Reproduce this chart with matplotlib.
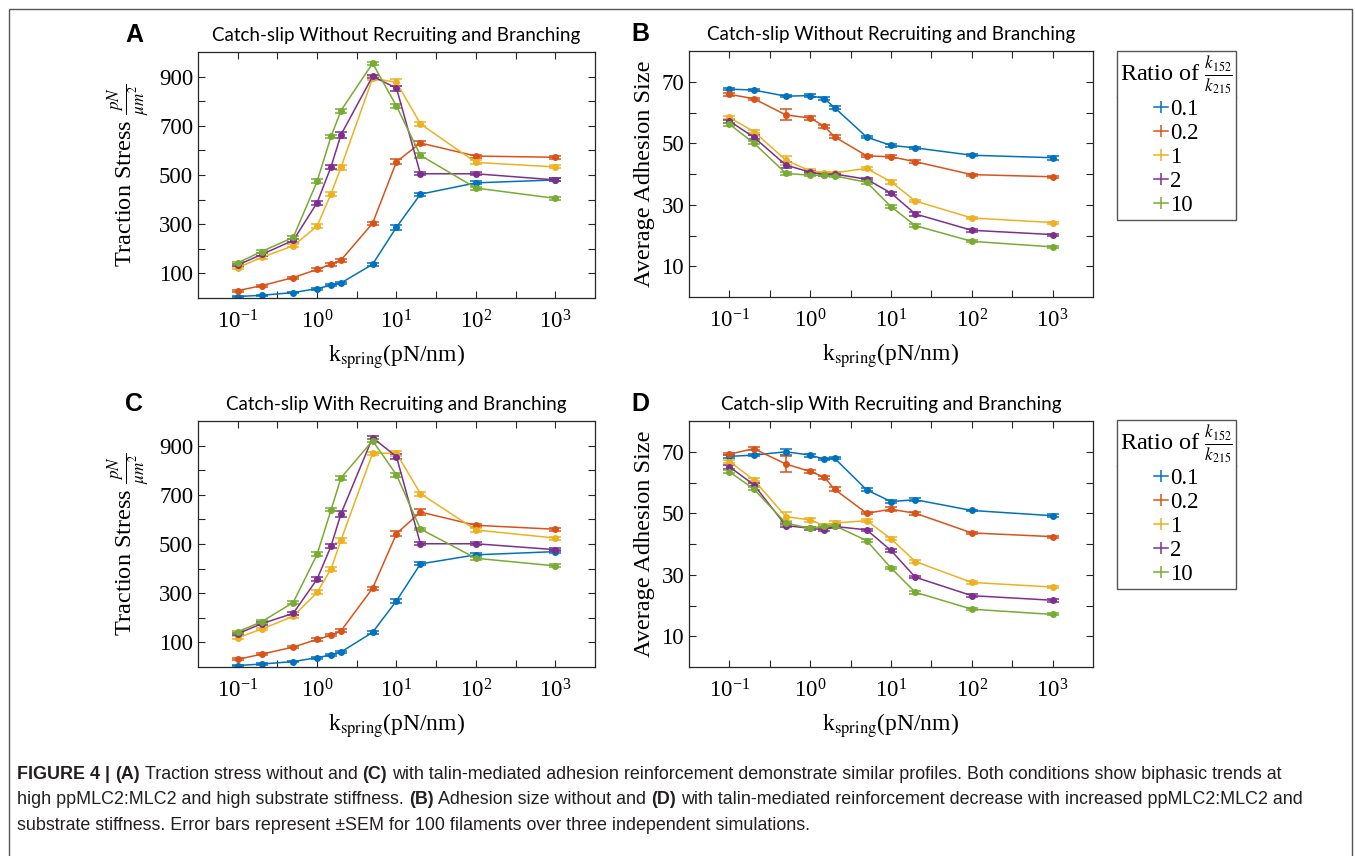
import matplotlib
matplotlib.use('Agg')
import matplotlib.pyplot as plt
from matplotlib.lines import Line2D
from matplotlib.patches import Rectangle
from matplotlib.ticker import FixedLocator, NullFormatter

plt.rcParams['font.family'] = ['Liberation Serif', 'DejaVu Serif']
plt.rcParams['mathtext.fontset'] = 'stix'

k_spring = [0.1, 0.2, 0.5, 1, 1.5, 2, 5, 10, 20, 100, 1000]
ratios = ['0.1', '0.2', '1', '2', '10']
colors = ['#0072BD', '#D95319', '#EDB120', '#7E2F8E', '#77AC30']

# traction stress, without recruiting and branching (A)
stress_no_rec = [
    [6, 11, 22, 38, 52, 61, 137, 288, 422, 468, 480],
    [30, 50, 83, 116, 137, 154, 304, 554, 630, 577, 572],
    [123, 165, 212, 292, 424, 531, 893, 877, 708, 551, 533],
    [134, 177, 234, 387, 534, 664, 901, 853, 505, 505, 480],
    [143, 189, 246, 474, 657, 762, 954, 780, 580, 447, 405],
]
stress_no_rec_err = [
    [3, 3, 3, 4, 4, 5, 6, 10, 6, 6, 6],
    [4, 4, 4, 5, 5, 6, 6, 10, 10, 6, 6],
    [5, 5, 6, 8, 8, 10, 8, 15, 8, 8, 6],
    [5, 6, 6, 8, 8, 12, 6, 10, 6, 6, 6],
    [5, 6, 6, 8, 6, 8, 6, 8, 10, 6, 6],
]

# traction stress, with recruiting and branching (C)
stress_rec = [
    [6, 12, 22, 38, 49, 61, 141, 269, 419, 456, 469],
    [31, 52, 81, 112, 129, 147, 320, 542, 630, 576, 560],
    [119, 154, 206, 303, 399, 516, 869, 869, 705, 557, 524],
    [135, 176, 218, 357, 492, 623, 932, 855, 501, 501, 477],
    [143, 184, 262, 458, 639, 769, 920, 781, 561, 442, 411],
]
stress_rec_err = [
    [3, 3, 3, 4, 4, 5, 6, 8, 6, 6, 6],
    [4, 4, 4, 5, 5, 6, 6, 10, 12, 6, 6],
    [5, 5, 6, 8, 8, 10, 6, 10, 8, 10, 6],
    [5, 6, 6, 8, 8, 12, 6, 10, 6, 6, 6],
    [5, 6, 6, 8, 6, 8, 6, 8, 6, 6, 6],
]

# average adhesion size, without recruiting and branching (B)
size_no_rec = [
    [67.6, 67.3, 65.3, 65.5, 64.5, 61.6, 52.0, 49.3, 48.5, 46.1, 45.3],
    [65.9, 64.5, 59.2, 58.2, 55.5, 52.1, 45.9, 45.6, 44.0, 39.8, 39.1],
    [58.4, 53.8, 44.5, 41.0, 40.4, 40.4, 41.8, 37.5, 31.2, 25.7, 24.2],
    [57.2, 52.0, 42.9, 40.6, 39.8, 40.0, 38.3, 33.8, 27.0, 21.7, 20.3],
    [56.2, 50.1, 40.2, 39.6, 39.6, 39.4, 37.3, 29.4, 23.2, 18.1, 16.3],
]
size_no_rec_err = [
    [0.4, 0.4, 0.4, 0.4, 0.4, 0.6, 0.3, 0.4, 0.4, 0.4, 0.7],
    [0.4, 0.3, 1.8, 0.8, 0.4, 0.5, 0.3, 0.5, 0.4, 0.3, 0.3],
    [0.5, 0.5, 1.5, 0.5, 0.4, 0.4, 0.4, 0.6, 0.4, 0.3, 0.3],
    [0.5, 0.6, 1.0, 0.4, 0.4, 0.4, 0.4, 0.5, 0.6, 0.4, 0.3],
    [0.5, 0.5, 0.5, 0.4, 0.4, 0.4, 0.4, 0.4, 0.5, 0.3, 0.3],
]

# average adhesion size, with recruiting and branching (D)
size_rec = [
    [68.5, 68.9, 70.0, 68.9, 67.6, 67.9, 57.6, 53.8, 54.4, 50.9, 49.2],
    [69.2, 71.0, 66.0, 63.6, 61.7, 57.8, 50.0, 51.3, 50.0, 43.6, 42.4],
    [66.8, 60.9, 48.9, 47.8, 46.0, 46.8, 47.6, 41.7, 34.3, 27.5, 26.0],
    [65.1, 59.3, 46.0, 45.1, 44.6, 45.7, 44.6, 37.9, 29.2, 23.2, 21.7],
    [63.5, 57.9, 46.8, 45.1, 45.8, 46.0, 41.1, 32.2, 24.3, 18.8, 17.1],
]
size_rec_err = [
    [0.5, 0.4, 1.0, 0.5, 0.4, 0.4, 0.5, 0.6, 0.4, 0.3, 0.4],
    [0.4, 0.4, 2.5, 0.5, 0.4, 0.6, 0.4, 0.6, 0.5, 0.3, 0.3],
    [0.6, 0.5, 1.5, 0.5, 0.5, 0.6, 0.4, 0.5, 0.4, 0.4, 0.3],
    [0.6, 0.6, 0.6, 0.4, 0.5, 0.5, 0.4, 0.5, 0.4, 0.5, 0.4],
    [0.5, 0.5, 0.5, 0.4, 0.4, 0.5, 0.4, 0.4, 0.4, 0.3, 0.3],
]

title_no = 'Catch-slip Without Recruiting and Branching'
title_with = 'Catch-slip With Recruiting and Branching'
xlabel = r'k$_{\mathrm{spring}}$(pN/nm)'
ylabel_stress = r'Traction Stress $\frac{pN}{\mu m^2}$'
ylabel_size = 'Average Adhesion Size'
legend_title = r'Ratio of $\frac{k_{152}}{k_{215}}$'

W, H = 1355, 856
fig = plt.figure(figsize=(W / 100, H / 100), dpi=100)


def px_axes(l, t, r, b):
    return fig.add_axes([l / W, 1 - b / H, (r - l) / W, (b - t) / H])


def draw_panel(ax, data, errs, title, ylabel, ylim, yticks, yminor, letter, ylab_x):
    for vals, err, c in zip(data, errs, colors):
        ax.errorbar(k_spring, vals, yerr=err, color=c, lw=1.1, marker='o', ms=4,
                    capsize=4.5, capthick=1.1, elinewidth=1.1)
    ax.set_xscale('log')
    ax.set_xlim(10 ** -1.5, 10 ** 3.5)
    ax.set_ylim(*ylim)
    ax.xaxis.set_major_locator(FixedLocator([0.1, 1, 10, 100, 1000]))
    ax.xaxis.set_minor_locator(FixedLocator([10 ** p for p in (-0.5, 0.5, 1.5, 2.5)]))
    ax.xaxis.set_minor_formatter(NullFormatter())
    ax.yaxis.set_major_locator(FixedLocator(yticks))
    ax.yaxis.set_minor_locator(FixedLocator(yminor))
    ax.tick_params(which='both', direction='in', top=True, right=True, length=5,
                   width=0.8, color='#262626', labelsize=16.5)
    ax.tick_params(axis='x', which='major', pad=9)
    for s in ax.spines.values():
        s.set_color('#262626')
        s.set_linewidth(0.9)
    ax.set_title(title, fontsize=13.5, family=['Lato', 'DejaVu Sans'], pad=8)
    ax.set_xlabel(xlabel, fontsize=17)
    ax.xaxis.set_label_coords(0.5, -0.18)
    ax.xaxis.label.set_va('top')
    ax.set_ylabel(ylabel, fontsize=17.5)
    ax.yaxis.set_label_coords(ylab_x, 0.5)
    ax.text(-0.16 if ylab_x < -0.1 else -0.12, 1.07, letter, transform=ax.transAxes,
            fontsize=18, fontweight='bold', family=['Liberation Sans', 'DejaVu Sans'],
            ha='center', va='center')


ax_a = px_axes(198, 52, 595, 298)
ax_b = px_axes(689, 51, 1093, 297)
ax_c = px_axes(198, 421, 595, 667)
ax_d = px_axes(689, 421, 1093, 667)

draw_panel(ax_a, stress_no_rec, stress_no_rec_err, title_no, ylabel_stress,
           (0, 1000), [100, 300, 500, 700, 900], [200, 400, 600, 800], 'A', -0.115)
draw_panel(ax_c, stress_rec, stress_rec_err, title_with, ylabel_stress,
           (0, 1000), [100, 300, 500, 700, 900], [200, 400, 600, 800], 'C', -0.115)
draw_panel(ax_b, size_no_rec, size_no_rec_err, title_no, ylabel_size,
           (0, 80), [10, 30, 50, 70], [20, 40, 60], 'B', -0.085)
draw_panel(ax_d, size_rec, size_rec_err, title_with, ylabel_size,
           (0, 80), [10, 30, 50, 70], [20, 40, 60], 'D', -0.085)

handles = [Line2D([], [], color=c, lw=1.1, marker='|', ms=9, mew=1.1) for c in colors]
legends = []
for top in (51, 420):
    leg = fig.legend(handles, ratios, title=legend_title, loc='upper center',
                     bbox_to_anchor=(1176.5 / W, 1 - top / H),
                     alignment='center', fontsize=16.5, title_fontsize=17.5,
                     handlelength=0.6, handletextpad=0.1, labelspacing=0.13,
                     borderpad=0.15, borderaxespad=0, fancybox=False,
                     edgecolor='#555555', framealpha=1)
    leg.get_frame().set_linewidth(1.0)
    legends.append(leg)

# outer frame
fig.patches.append(Rectangle((9 / W, -0.05), 1343 / W, 1 - 9 / H + 0.05,
                             transform=fig.transFigure, fill=False,
                             edgecolor='#555555', lw=1.0))

fig.canvas.draw()
renderer = fig.canvas.get_renderer()
inv = fig.transFigure.inverted()
for leg in legends:
    fb = leg.get_frame().get_window_extent(renderer)
    tb = leg.get_title().get_window_extent(renderer)
    y = tb.y0 - 1
    (x0, y0), (x1, _) = inv.transform([(fb.x0, y), (fb.x1, y)])
    fig.lines.append(Line2D([x0, x1], [y0, y0], transform=fig.transFigure,
                            color='#555555', lw=1.0))

# caption with bold pieces
cap_lines = [
    [('FIGURE 4 |', True), ('(A)', True), ('Traction stress without and', False),
     ('(C)', True), ('with talin-mediated adhesion reinforcement demonstrate similar profiles. '
                     'Both conditions show biphasic trends at', False)],
    [('high ppMLC2:MLC2 and high substrate stiffness.', False), ('(B)', True),
     ('Adhesion size without and', False), ('(D)', True),
     ('with talin-mediated reinforcement decrease with increased ppMLC2:MLC2 and', False)],
    [('substrate stiffness. Error bars represent \u00b1SEM for 100 filaments over three '
      'independent simulations.', False)],
]
cap_kw = dict(fontsize=12.9, family=['Liberation Sans', 'DejaVu Sans'], color='#231f20',
              va='baseline', ha='left')
probe1 = fig.text(0, 0, 'x x', **cap_kw)
probe2 = fig.text(0, 0, 'xx', **cap_kw)
space = (probe1.get_window_extent(renderer).width - probe2.get_window_extent(renderer).width)
probe1.remove()
probe2.remove()

for i, segs in enumerate(cap_lines):
    xpx = 17
    ypx = 779 + i * 25.5
    for text, bold in segs:
        t = fig.text(xpx / W, 1 - ypx / H, text, fontweight='bold' if bold else 'normal', **cap_kw)
        xpx += t.get_window_extent(renderer).width + space

fig.savefig('out.png', dpi=100)
